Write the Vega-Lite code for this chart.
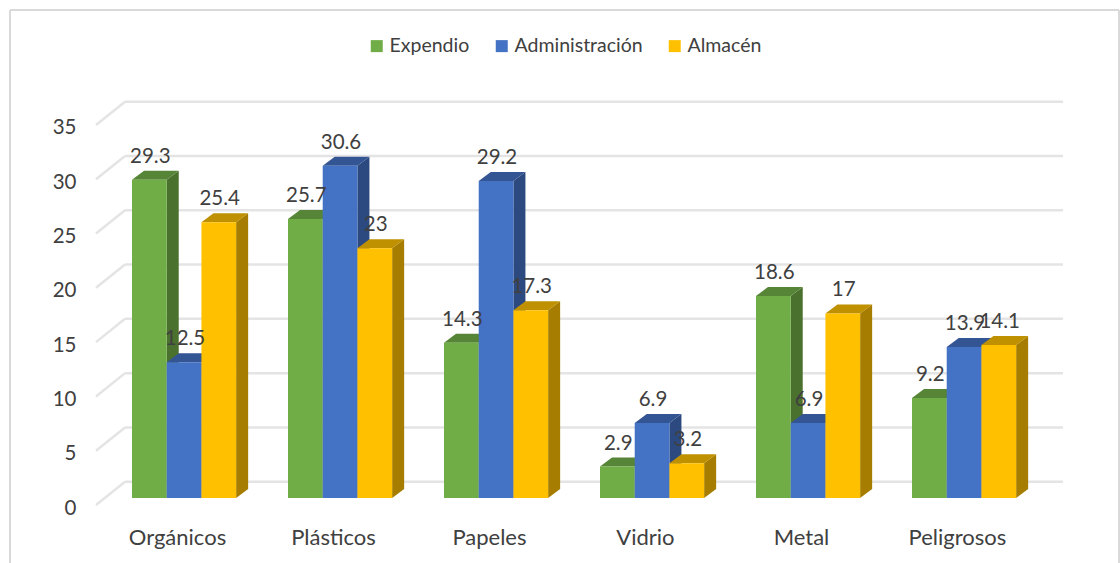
{
  "$schema": "https://vega.github.io/schema/vega-lite/v6.json",
  "width": 1110,
  "height": 553,
  "autosize": "none",
  "padding": {"left": 10, "top": 10, "right": 0, "bottom": 0},
  "background": "white",
  "view": {"stroke": null},
  "config": {"font": "Lato", "text": {"font": "Lato"}},
  "datasets": {
    "residuos": [
      {"categoria": "Orgánicos", "serie": "Expendio", "valor": 29.3},
      {"categoria": "Orgánicos", "serie": "Administración", "valor": 12.5},
      {"categoria": "Orgánicos", "serie": "Almacén", "valor": 25.4},
      {"categoria": "Plásticos", "serie": "Expendio", "valor": 25.7},
      {"categoria": "Plásticos", "serie": "Administración", "valor": 30.6},
      {"categoria": "Plásticos", "serie": "Almacén", "valor": 23},
      {"categoria": "Papeles", "serie": "Expendio", "valor": 14.3},
      {"categoria": "Papeles", "serie": "Administración", "valor": 29.2},
      {"categoria": "Papeles", "serie": "Almacén", "valor": 17.3},
      {"categoria": "Vidrio", "serie": "Expendio", "valor": 2.9},
      {"categoria": "Vidrio", "serie": "Administración", "valor": 6.9},
      {"categoria": "Vidrio", "serie": "Almacén", "valor": 3.2},
      {"categoria": "Metal", "serie": "Expendio", "valor": 18.6},
      {"categoria": "Metal", "serie": "Administración", "valor": 6.9},
      {"categoria": "Metal", "serie": "Almacén", "valor": 17},
      {"categoria": "Peligrosos", "serie": "Expendio", "valor": 9.2},
      {"categoria": "Peligrosos", "serie": "Administración", "valor": 13.9},
      {"categoria": "Peligrosos", "serie": "Almacén", "valor": 14.1}
    ],
    "niveles": [{"nivel": 0}, {"nivel": 5}, {"nivel": 10}, {"nivel": 15}, {"nivel": 20}, {"nivel": 25}, {"nivel": 30}, {"nivel": 35}],
    "marco": [
      {"x": -0.5513, "x2": -0.5513, "y": -5.985, "y2": 44.94},
      {"x": 6.558, "x2": 6.558, "y": -5.985, "y2": 44.94},
      {"x": -0.5513, "x2": 6.558, "y": 44.94, "y2": 44.94}
    ]
  },
  "layer": [
    {
      "description": "Marco del gráfico",
      "data": {"name": "marco"},
      "mark": {"type": "rule", "color": "#d9d9d9", "strokeWidth": 2},
      "encoding": {
        "x": {
          "field": "x", "type": "quantitative",
          "scale": {"domain": [-0.5513, 6.5641], "nice": false, "zero": false},
          "axis": {
            "title": null, "grid": false, "domain": false, "ticks": false,
            "values": [0.519, 1.519, 2.519, 3.519, 4.519, 5.519],
            "labelExpr": "['Orgánicos','Plásticos','Papeles','Vidrio','Metal','Peligrosos'][floor(datum.value)]",
            "labelFontSize": 22, "labelColor": "#404040", "labelFont": "Lato",
            "labelBaseline": "middle", "labelPadding": 0, "offset": -26, "labelFlush": false, "labelOverlap": false
          }
        },
        "x2": {"field": "x2"},
        "y": {
          "field": "y", "type": "quantitative",
          "scale": {"domain": [-5.985, 44.94], "nice": false, "zero": false},
          "axis": {
            "title": null, "grid": false, "domain": false, "ticks": false,
            "values": [0, 5, 10, 15, 20, 25, 30, 35],
            "labelFontSize": 20.5, "labelColor": "#404040", "labelFont": "Lato",
            "labelOffset": 10, "labelPadding": 20, "offset": -86, "labelOverlap": false, "labelFlush": false
          }
        },
        "y2": {"field": "y2"}
      }
    },
    {
      "description": "Líneas de división de la pared del fondo y su tramo oblicuo",
      "data": {"name": "niveles"},
      "transform": [
        {"calculate": "datum.nivel + 1.5", "as": "fondo"},
        {"calculate": "datum.nivel - 0.645", "as": "frente"},
        {"calculate": "[[0.186, 6.199, datum.fondo, datum.fondo], [0, 0.186, datum.frente, datum.fondo]]", "as": "tramo"},
        {"flatten": ["tramo"]},
        {"calculate": "datum.tramo[0]", "as": "xa"},
        {"calculate": "datum.tramo[1]", "as": "xb"},
        {"calculate": "datum.tramo[2]", "as": "ya"},
        {"calculate": "datum.tramo[3]", "as": "yb"}
      ],
      "mark": {"type": "rule", "color": "#e4e4e4", "strokeWidth": 2.5},
      "encoding": {
        "x": {"field": "xa", "type": "quantitative"},
        "x2": {"field": "xb"},
        "y": {"field": "ya", "type": "quantitative"},
        "y2": {"field": "yb"}
      }
    },
    {
      "description": "Cara lateral de cada barra",
      "data": {"name": "residuos"},
      "transform": [
        {"calculate": "indexof(['Orgánicos','Plásticos','Papeles','Vidrio','Metal','Peligrosos'], datum.categoria) + 0.2308 + indexof(['Expendio','Administración','Almacén'], datum.serie) * 0.2225", "as": "x0"},
        {"calculate": "datum.x0 + 0.2225", "as": "x1"},
        {"calculate": "[0, 1]", "as": "p"},
        {"flatten": ["p"]},
        {"calculate": "datum.x1 + datum.p * 0.077", "as": "xs"},
        {"calculate": "datum.p * 0.83", "as": "base"},
        {"calculate": "datum.valor + datum.p * 0.83", "as": "tope"}
      ],
      "mark": {"type": "area"},
      "encoding": {
        "x": {"field": "xs", "type": "quantitative"},
        "y": {"field": "base", "type": "quantitative"},
        "y2": {"field": "tope"},
        "detail": {"field": "categoria"},
        "color": {
          "field": "serie", "type": "nominal", "legend": null,
          "scale": {"domain": ["Expendio", "Administración", "Almacén"], "range": ["#4b712e", "#2c4a80", "#a67d00"]}
        }
      }
    },
    {
      "description": "Cara superior de cada barra",
      "data": {"name": "residuos"},
      "transform": [
        {"calculate": "indexof(['Orgánicos','Plásticos','Papeles','Vidrio','Metal','Peligrosos'], datum.categoria) + 0.2308 + indexof(['Expendio','Administración','Almacén'], datum.serie) * 0.2225", "as": "x0"},
        {"calculate": "datum.x0 + 0.2225", "as": "x1"},
        {"calculate": "[0, 1]", "as": "p"},
        {"flatten": ["p"]},
        {"calculate": "datum.x0 + datum.p * 0.077", "as": "xa"},
        {"calculate": "datum.x1 + datum.p * 0.077", "as": "xb"},
        {"calculate": "datum.valor + datum.p * 0.83", "as": "tope"}
      ],
      "mark": {"type": "area", "orient": "horizontal"},
      "encoding": {
        "y": {"field": "tope", "type": "quantitative"},
        "x": {"field": "xa", "type": "quantitative"},
        "x2": {"field": "xb"},
        "detail": {"field": "categoria"},
        "color": {
          "field": "serie", "type": "nominal", "legend": null,
          "scale": {"domain": ["Expendio", "Administración", "Almacén"], "range": ["#578537", "#335593", "#bf9000"]}
        }
      }
    },
    {
      "description": "Cara frontal de cada barra y leyenda",
      "data": {"name": "residuos"},
      "transform": [
        {"calculate": "indexof(['Orgánicos','Plásticos','Papeles','Vidrio','Metal','Peligrosos'], datum.categoria) + 0.2308 + indexof(['Expendio','Administración','Almacén'], datum.serie) * 0.2225", "as": "x0"},
        {"calculate": "datum.x0 + 0.2225", "as": "x1"},
        {"calculate": "0", "as": "cero"}
      ],
      "mark": {"type": "rect"},
      "encoding": {
        "x": {"field": "x0", "type": "quantitative"},
        "x2": {"field": "x1"},
        "y": {"field": "cero", "type": "quantitative"},
        "y2": {"field": "valor"},
        "color": {
          "field": "serie", "type": "nominal",
          "scale": {"domain": ["Expendio", "Administración", "Almacén"], "range": ["#70ad47", "#4472c4", "#ffc000"]},
          "legend": {
            "title": null, "orient": "none", "direction": "horizontal", "columns": 3,
            "legendX": 357, "legendY": 26,
            "symbolType": "square", "symbolSize": 144, "symbolStrokeWidth": 0,
            "labelFontSize": 19.5, "labelColor": "#404040", "labelFont": "Lato", "labelOffset": 3,
            "columnPadding": 22, "padding": 0
          }
        }
      }
    },
    {
      "description": "Valor sobre cada barra",
      "data": {"name": "residuos"},
      "transform": [
        {"calculate": "indexof(['Orgánicos','Plásticos','Papeles','Vidrio','Metal','Peligrosos'], datum.categoria) + 0.2308 + indexof(['Expendio','Administración','Almacén'], datum.serie) * 0.2225 + 0.1172", "as": "centro"}
      ],
      "mark": {"type": "text", "dy": -23, "baseline": "middle", "align": "center", "fontSize": 20.5, "color": "#404040", "font": "Lato"},
      "encoding": {
        "x": {"field": "centro", "type": "quantitative"},
        "y": {"field": "valor", "type": "quantitative"},
        "text": {"field": "valor", "type": "quantitative"}
      }
    }
  ],
  "resolve": {"scale": {"color": "independent"}}
}
